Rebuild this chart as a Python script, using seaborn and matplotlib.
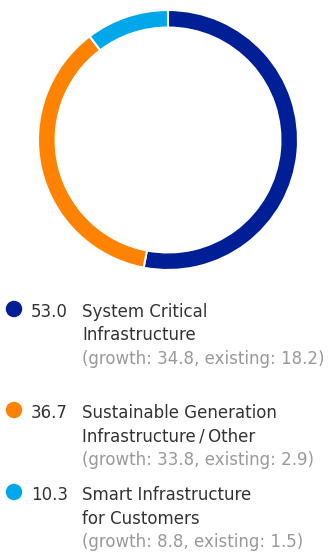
import matplotlib
matplotlib.use("Agg")
import matplotlib.pyplot as plt
import seaborn as sns
import pandas as pd

# ---- data ----
values = [53.0, 36.7, 10.3]
value_labels = ["53.0", "36.7", "10.3"]
categories = [
    "System Critical\nInfrastructure",
    "Sustainable Generation\nInfrastructure\u2009/\u2009Other",
    "Smart Infrastructure\nfor Customers",
]
growth = [34.8, 33.8, 8.8]
existing = [18.2, 2.9, 1.5]
colors = ["#001E96", "#FF8200", "#00A8EB"]

sns.set_theme(style="white")
plt.rcParams["font.family"] = ["DejaVu Sans"]

W, H = 329, 553
fig = plt.figure(figsize=(W / 100, H / 100), dpi=100)
fig.patch.set_facecolor("white")

# ---- donut ----
cx, cy, r = 168, 140, 130
ax = fig.add_axes([(cx - r) / W, 1 - (cy + r) / H, 2 * r / W, 2 * r / H])
ax.pie(values, colors=colors, startangle=90, counterclock=False,
       radius=1.0,
       wedgeprops=dict(width=0.135, edgecolor="white", linewidth=1.5))
ax.set_xlim(-1, 1)
ax.set_ylim(-1, 1)
ax.set_aspect("equal")
ax.axis("off")

# ---- legend ----
lax = fig.add_axes([0, 0, 1, 1])
lax.patch.set_alpha(0)

baselines = [317, 418, 500]
line_gap = 23.5
dot_y = [b - 8 for b in baselines]
df = pd.DataFrame({"x": [14] * 3, "y": dot_y, "cat": categories})
sns.scatterplot(data=df, x="x", y="y", hue="cat", palette=colors, s=140,
                linewidth=0, legend=False, ax=lax)
lax.set_xlim(0, W)
lax.set_ylim(H, 0)
lax.axis("off")

fs = 12
for i in range(3):
    b = baselines[i]
    lax.text(31, b, value_labels[i], fontsize=fs, color="#333333", va="baseline", ha="left")
    lines = categories[i].split("\n")
    for j, ln in enumerate(lines):
        lax.text(82, b + j * line_gap, ln, fontsize=fs, color="#333333",
                 va="baseline", ha="left")
    lax.text(82, b + len(lines) * line_gap,
             f"(growth: {growth[i]}, existing: {existing[i]})",
             fontsize=fs, color="#999999", va="baseline", ha="left")

fig.savefig("out.png", dpi=100, facecolor="white")
